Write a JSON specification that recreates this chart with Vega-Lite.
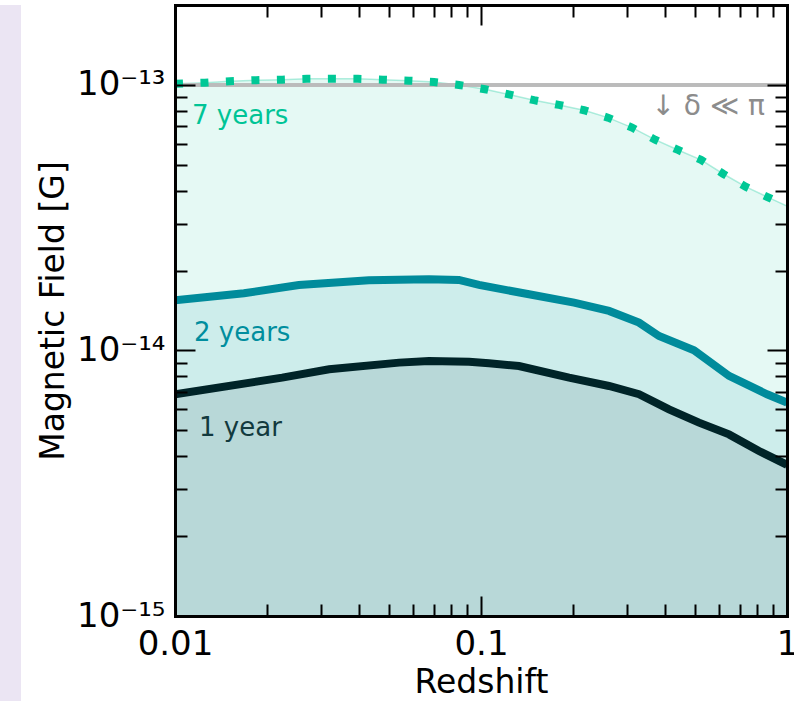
{
  "$schema": "https://vega.github.io/schema/vega-lite/v6.json",
  "padding": {"top": 4, "left": 0, "right": 0, "bottom": 0},
  "autosize": {"type": "pad"},
  "background": "white",
  "spacing": 16,
  "config": {"view": {"stroke": null}, "font": "DejaVu Sans"},
  "datasets": {
    "curves": [
      {"s": "7yr", "z": 0.01, "B": 1.01e-13},
      {"s": "7yr", "z": 0.0125, "B": 1.02e-13},
      {"s": "7yr", "z": 0.0151, "B": 1.033e-13},
      {"s": "7yr", "z": 0.0184, "B": 1.042e-13},
      {"s": "7yr", "z": 0.0224, "B": 1.047e-13},
      {"s": "7yr", "z": 0.027, "B": 1.054e-13},
      {"s": "7yr", "z": 0.0326, "B": 1.056e-13},
      {"s": "7yr", "z": 0.0396, "B": 1.054e-13},
      {"s": "7yr", "z": 0.0478, "B": 1.047e-13},
      {"s": "7yr", "z": 0.0582, "B": 1.038e-13},
      {"s": "7yr", "z": 0.0702, "B": 1.026e-13},
      {"s": "7yr", "z": 0.0847, "B": 1.0e-13},
      {"s": "7yr", "z": 0.1031, "B": 9.63e-14},
      {"s": "7yr", "z": 0.1244, "B": 9.19e-14},
      {"s": "7yr", "z": 0.149, "B": 8.76e-14},
      {"s": "7yr", "z": 0.1798, "B": 8.41e-14},
      {"s": "7yr", "z": 0.2171, "B": 8.03e-14},
      {"s": "7yr", "z": 0.26, "B": 7.53e-14},
      {"s": "7yr", "z": 0.3115, "B": 6.91e-14},
      {"s": "7yr", "z": 0.3705, "B": 6.22e-14},
      {"s": "7yr", "z": 0.4404, "B": 5.69e-14},
      {"s": "7yr", "z": 0.5236, "B": 5.22e-14},
      {"s": "7yr", "z": 0.6178, "B": 4.63e-14},
      {"s": "7yr", "z": 0.7345, "B": 4.13e-14},
      {"s": "7yr", "z": 0.8606, "B": 3.79e-14},
      {"s": "7yr", "z": 1.0, "B": 3.5e-14},
      {"s": "2yr", "z": 0.01, "B": 1.546e-14},
      {"s": "2yr", "z": 0.0168, "B": 1.642e-14},
      {"s": "2yr", "z": 0.0254, "B": 1.765e-14},
      {"s": "2yr", "z": 0.043, "B": 1.838e-14},
      {"s": "2yr", "z": 0.0676, "B": 1.854e-14},
      {"s": "2yr", "z": 0.0847, "B": 1.843e-14},
      {"s": "2yr", "z": 0.0985, "B": 1.765e-14},
      {"s": "2yr", "z": 0.1435, "B": 1.628e-14},
      {"s": "2yr", "z": 0.2014, "B": 1.514e-14},
      {"s": "2yr", "z": 0.262, "B": 1.409e-14},
      {"s": "2yr", "z": 0.3284, "B": 1.273e-14},
      {"s": "2yr", "z": 0.3816, "B": 1.134e-14},
      {"s": "2yr", "z": 0.4967, "B": 1.002e-14},
      {"s": "2yr", "z": 0.6464, "B": 8.02e-15},
      {"s": "2yr", "z": 0.8606, "B": 6.84e-15},
      {"s": "2yr", "z": 1.0, "B": 6.36e-15},
      {"s": "1yr", "z": 0.01, "B": 6.84e-15},
      {"s": "1yr", "z": 0.0224, "B": 7.9e-15},
      {"s": "1yr", "z": 0.0319, "B": 8.5e-15},
      {"s": "1yr", "z": 0.054, "B": 9.0e-15},
      {"s": "1yr", "z": 0.0676, "B": 9.13e-15},
      {"s": "1yr", "z": 0.0914, "B": 9.07e-15},
      {"s": "1yr", "z": 0.1062, "B": 8.95e-15},
      {"s": "1yr", "z": 0.1331, "B": 8.74e-15},
      {"s": "1yr", "z": 0.194, "B": 7.9e-15},
      {"s": "1yr", "z": 0.262, "B": 7.35e-15},
      {"s": "1yr", "z": 0.3284, "B": 6.84e-15},
      {"s": "1yr", "z": 0.4116, "B": 6.0e-15},
      {"s": "1yr", "z": 0.5158, "B": 5.35e-15},
      {"s": "1yr", "z": 0.6464, "B": 4.83e-15},
      {"s": "1yr", "z": 0.8099, "B": 4.18e-15},
      {"s": "1yr", "z": 1.0, "B": 3.71e-15}
    ],
    "labels": [
      {"s": "7yr", "z": 0.01137, "B": 7.13e-14, "text": "7 years"},
      {"s": "2yr", "z": 0.01154, "B": 1.086e-14, "text": "2 years"},
      {"s": "1yr", "z": 0.01198, "B": 4.76e-15, "text": "1 year"}
    ]
  },
  "hconcat": [
    {
      "width": 21,
      "height": 701,
      "data": {"values": [{"a": 1}]},
      "mark": {"type": "point", "opacity": 0},
      "view": {"fill": "#EBE5F3", "stroke": null}
    },
    {
      "width": 612,
      "height": 611,
      "view": {"stroke": null},
      "data": {"name": "curves"},
      "resolve": {"axis": {"x": "independent", "y": "independent"}},
      "layer": [
        {
          "transform": [{"filter": "datum.s == '7yr'"}],
          "mark": {"type": "area", "fill": "#00C896", "fillOpacity": 0.1, "stroke": "#00C896", "strokeOpacity": 0.3, "strokeWidth": 1.5, "clip": true},
          "encoding": {
            "x": {"field": "z", "type": "quantitative",
              "scale": {"type": "log", "domain": [0.01, 1], "nice": false},
              "axis": {
                "orient": "bottom",
                "values": [0.01, 0.02, 0.03, 0.04, 0.05, 0.06, 0.07, 0.08, 0.09, 0.1, 0.2, 0.3, 0.4, 0.5, 0.6, 0.7, 0.8, 0.9, 1],
                "labelExpr": "datum.value == 0.01 ? '0.01' : datum.value == 0.1 ? '0.1' : datum.value == 1 ? '1' : ''",
                "tickSize": {"condition": {"test": "datum.value == 0.01 || datum.value == 0.1 || datum.value == 1", "value": -20}, "value": -12},
                "tickWidth": 2, "tickColor": "black",
                "domainWidth": 3, "domainColor": "black", "domainCap": "square",
                "labelFont": "DejaVu Sans", "labelFontSize": 34, "labelColor": "black", "labelPadding": 31,
                "labelFlush": false, "labelOverlap": false, "labelBound": false,
                "grid": false,
                "title": "Redshift", "titleFont": "DejaVu Sans", "titleFontSize": 33, "titleFontWeight": "normal", "titleColor": "black", "titlePadding": -3,
                "zindex": 1
              }
            },
            "y": {"field": "B", "type": "quantitative",
              "scale": {"type": "log", "domain": [1e-15, 2e-13], "nice": false},
              "axis": {
                "orient": "left",
                "values": [1e-15, 2e-15, 3e-15, 4e-15, 5e-15, 6e-15, 7e-15, 8e-15, 9e-15, 1e-14, 2e-14, 3e-14, 4e-14, 5e-14, 6e-14, 7e-14, 8e-14, 9e-14, 1e-13],
                "labelExpr": "datum.value == 1e-13 ? '10⁻¹³' : datum.value == 1e-14 ? '10⁻¹⁴' : datum.value == 1e-15 ? '10⁻¹⁵' : ''",
                "tickSize": {"condition": {"test": "datum.value == 1e-15 || datum.value == 1e-14 || datum.value == 1e-13", "value": -20}, "value": -12},
                "tickWidth": 2, "tickColor": "black",
                "domainWidth": 3, "domainColor": "black", "domainCap": "square",
                "labelFont": "DejaVu Sans", "labelFontSize": 34, "labelColor": "black", "labelPadding": 30,
                "labelFlush": false, "labelOverlap": false, "labelBound": false,
                "grid": false,
                "title": "Magnetic Field [G]", "titleFont": "DejaVu Sans", "titleFontSize": 33, "titleFontWeight": "normal", "titleColor": "black", "titlePadding": 6,
                "zindex": 1
              }
            },
            "y2": {"datum": 1e-15}
          }
        },
        {
          "transform": [{"filter": "datum.s == '2yr'"}],
          "mark": {"type": "area", "fill": "#008B9B", "fillOpacity": 0.1, "clip": true},
          "encoding": {
            "x": {"field": "z", "type": "quantitative", "scale": {"type": "log", "domain": [0.01, 1], "nice": false}, "axis": null},
            "y": {"field": "B", "type": "quantitative", "scale": {"type": "log", "domain": [1e-15, 2e-13], "nice": false}, "axis": null},
            "y2": {"datum": 1e-15}
          }
        },
        {
          "transform": [{"filter": "datum.s == '1yr'"}],
          "mark": {"type": "area", "fill": "#002A2E", "fillOpacity": 0.1, "clip": true},
          "encoding": {
            "x": {"field": "z", "type": "quantitative", "scale": {"type": "log", "domain": [0.01, 1], "nice": false}, "axis": null},
            "y": {"field": "B", "type": "quantitative", "scale": {"type": "log", "domain": [1e-15, 2e-13], "nice": false}, "axis": null},
            "y2": {"datum": 1e-15}
          }
        },
        {
          "mark": {"type": "rule", "color": "#BBBBBB", "strokeWidth": 2.5},
          "encoding": {
            "y": {"datum": 1e-13, "type": "quantitative", "scale": {"type": "log", "domain": [1e-15, 2e-13], "nice": false}, "axis": null}
          }
        },
        {
          "transform": [{"filter": "datum.s == '2yr'"}],
          "mark": {"type": "line", "color": "#008B9B", "strokeWidth": 8, "clip": true},
          "encoding": {
            "x": {"field": "z", "type": "quantitative", "scale": {"type": "log", "domain": [0.01, 1], "nice": false}, "axis": null},
            "y": {"field": "B", "type": "quantitative", "scale": {"type": "log", "domain": [1e-15, 2e-13], "nice": false}, "axis": null}
          }
        },
        {
          "transform": [{"filter": "datum.s == '1yr'"}],
          "mark": {"type": "line", "color": "#002428", "strokeWidth": 8, "clip": true},
          "encoding": {
            "x": {"field": "z", "type": "quantitative", "scale": {"type": "log", "domain": [0.01, 1], "nice": false}, "axis": null},
            "y": {"field": "B", "type": "quantitative", "scale": {"type": "log", "domain": [1e-15, 2e-13], "nice": false}, "axis": null}
          }
        },
        {
          "transform": [{"filter": "datum.s == '7yr'"}],
          "mark": {"type": "line", "color": "#00C896", "strokeWidth": 8, "strokeDash": [8, 17.5], "strokeCap": "butt", "clip": true},
          "encoding": {
            "x": {"field": "z", "type": "quantitative", "scale": {"type": "log", "domain": [0.01, 1], "nice": false},
              "axis": {
                "orient": "top",
                "values": [0.01, 0.02, 0.03, 0.04, 0.05, 0.06, 0.07, 0.08, 0.09, 0.1, 0.2, 0.3, 0.4, 0.5, 0.6, 0.7, 0.8, 0.9, 1],
                "labels": false,
                "tickSize": {"condition": {"test": "datum.value == 0.01 || datum.value == 0.1 || datum.value == 1", "value": -20}, "value": -12},
                "tickWidth": 2, "tickColor": "black",
                "domainWidth": 3, "domainColor": "black", "domainCap": "square",
                "grid": false, "title": null, "zindex": 1
              }
            },
            "y": {"field": "B", "type": "quantitative", "scale": {"type": "log", "domain": [1e-15, 2e-13], "nice": false},
              "axis": {
                "orient": "right",
                "values": [1e-15, 2e-15, 3e-15, 4e-15, 5e-15, 6e-15, 7e-15, 8e-15, 9e-15, 1e-14, 2e-14, 3e-14, 4e-14, 5e-14, 6e-14, 7e-14, 8e-14, 9e-14, 1e-13],
                "labels": false,
                "tickSize": {"condition": {"test": "datum.value == 1e-15 || datum.value == 1e-14 || datum.value == 1e-13", "value": -20}, "value": -12},
                "tickWidth": 2, "tickColor": "black",
                "domainWidth": 3, "domainColor": "black", "domainCap": "square",
                "grid": false, "title": null, "zindex": 1
              }
            }
          }
        },
        {
          "data": {"name": "labels"},
          "mark": {"type": "text", "align": "left", "baseline": "alphabetic", "font": "DejaVu Sans", "fontSize": 26},
          "encoding": {
            "x": {"field": "z", "type": "quantitative", "scale": {"type": "log", "domain": [0.01, 1], "nice": false}, "axis": null},
            "y": {"field": "B", "type": "quantitative", "scale": {"type": "log", "domain": [1e-15, 2e-13], "nice": false}, "axis": null},
            "text": {"field": "text"},
            "color": {"field": "s", "type": "nominal", "scale": {"domain": ["7yr", "2yr", "1yr"], "range": ["#00C496", "#008E9E", "#123A3E"]}, "legend": null}
          }
        },
        {
          "data": {"values": [{"z": 0.8473, "B": 7.71e-14, "text": "↓ δ ≪ π"}]},
          "mark": {"type": "text", "align": "right", "baseline": "alphabetic", "font": "DejaVu Sans", "fontSize": 28, "color": "#8C8C8C"},
          "encoding": {
            "x": {"field": "z", "type": "quantitative", "scale": {"type": "log", "domain": [0.01, 1], "nice": false}, "axis": null},
            "y": {"field": "B", "type": "quantitative", "scale": {"type": "log", "domain": [1e-15, 2e-13], "nice": false}, "axis": null},
            "text": {"field": "text"}
          }
        }
      ]
    }
  ]
}
